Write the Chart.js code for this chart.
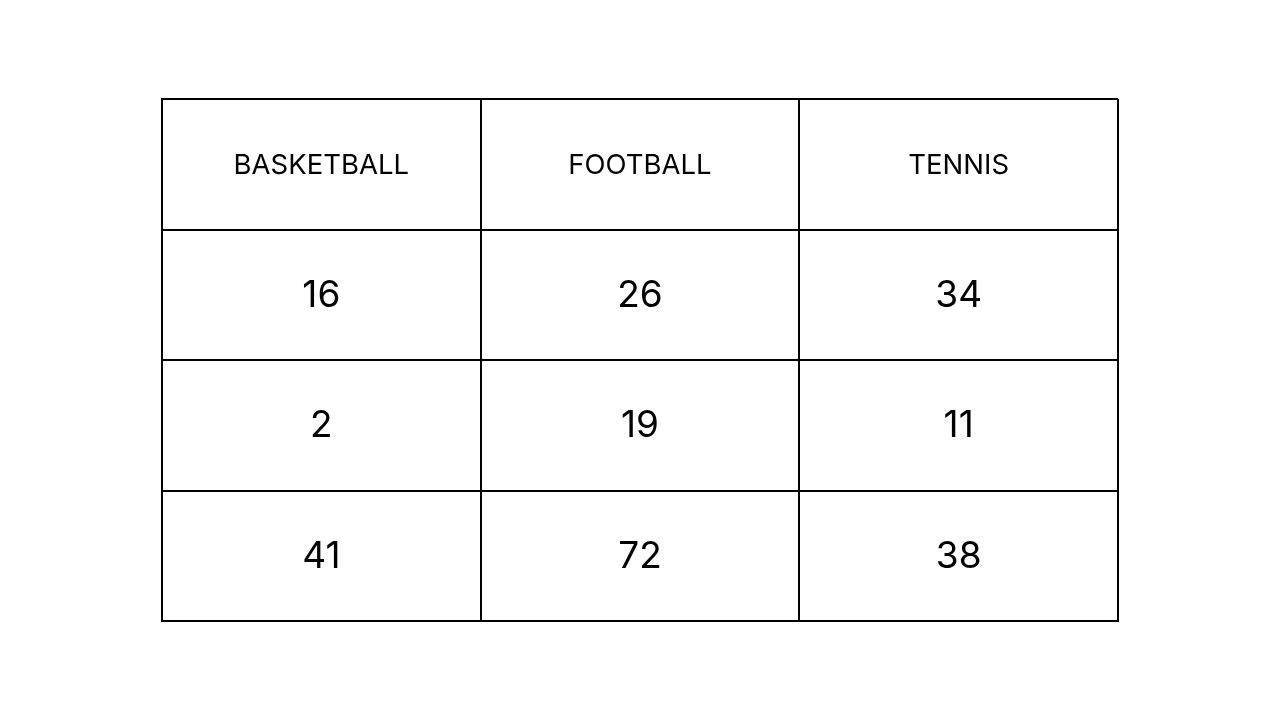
<!DOCTYPE html>
<html>
<head>
<meta charset="utf-8">
<script src="https://cdn.jsdelivr.net/npm/chart.js@4/dist/chart.umd.min.js"></script>
<style>
html,body{margin:0;padding:0;background:#fff;}
#wrap{width:1280px;height:720px;}
</style>
</head>
<body>
<div id="wrap"><canvas id="c" width="1280" height="720"></canvas></div>
<script>
const headers = ['BASKETBALL', 'FOOTBALL', 'TENNIS'];
const basketball = [16, 2, 41];
const football = [26, 19, 72];
const tennis = [34, 11, 38];
const columns = [basketball, football, tennis];

const cells = [];
headers.forEach((h, ci) => {
  cells.push({x: ci + 0.5, y: 0.5, text: h, header: true});
  columns[ci].forEach((v, ri) => {
    cells.push({x: ci + 0.5, y: ri + 1.5, text: String(v), header: false});
  });
});

const textPlugin = {
  id: 'cellText',
  afterDatasetsDraw(chart) {
    const ctx = chart.ctx;
    const xs = chart.scales.x, ys = chart.scales.y;
    ctx.save();
    ctx.fillStyle = '#000';
    ctx.textAlign = 'center';
    ctx.textBaseline = 'middle';
    cells.forEach(c => {
      ctx.font = c.header ? '27.5px Inter' : '37px Inter';
      ctx.fillText(c.text, xs.getPixelForValue(c.x), ys.getPixelForValue(c.y) + 1);
    });
    ctx.restore();
  }
};

new Chart(document.getElementById('c'), {
  type: 'scatter',
  data: { datasets: [{ data: cells.map(c => ({x: c.x, y: c.y})), pointRadius: 0, pointHoverRadius: 0 }] },
  options: {
    responsive: false,
    animation: false,
    events: [],
    layout: { padding: { left: 162, right: 162, top: 99, bottom: 99 } },
    plugins: { legend: { display: false }, tooltip: { enabled: false } },
    scales: {
      x: {
        type: 'linear', min: 0, max: 3,
        ticks: { display: false, stepSize: 1 },
        grid: { color: '#000', lineWidth: 2, drawTicks: false },
        border: { display: true, color: '#000', width: 2 }
      },
      y: {
        type: 'linear', min: 0, max: 4, reverse: true,
        ticks: { display: false, stepSize: 1 },
        grid: { color: '#000', lineWidth: 2, drawTicks: false },
        border: { display: true, color: '#000', width: 2 }
      }
    }
  },
  plugins: [textPlugin]
});
</script>
</body>
</html>
